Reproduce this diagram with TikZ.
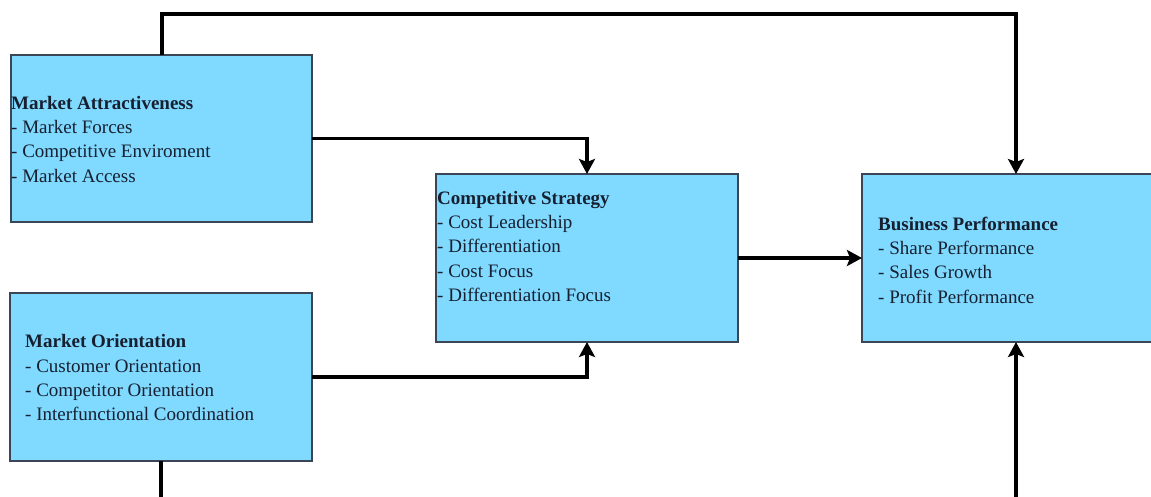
\documentclass[tikz,border=0pt]{standalone}
\usepackage{fontspec}
\setmainfont{Liberation Serif}
\usetikzlibrary{arrows.meta}
\definecolor{boxfill}{RGB}{128,217,255}
\definecolor{boxline}{RGB}{58,70,86}
\definecolor{txt}{RGB}{22,32,48}
\begin{document}
\begin{tikzpicture}[x=1pt,y=-1pt,
  box/.style={draw=boxline, line width=1.4pt, fill=boxfill, anchor=north west, inner sep=0pt, outer sep=0pt},
  lbl/.style={anchor=north west, inner sep=0pt, align=left, text=txt, font=\fontsize{19}{24.3}\selectfont},
  conn/.style={line width=3.8pt, black},
  arr/.style={conn, -{Stealth[length=15pt,width=16pt,inset=3pt]}}]
\useasboundingbox (0,0) rectangle (1151,497);
% boxes
\node[box, minimum width=301pt, minimum height=167pt] (ma) at (11,55) {};
\node[box, minimum width=302pt, minimum height=168pt] (cs) at (436,174) {};
\node[box, minimum width=310pt, minimum height=168pt] (bp) at (862,174) {};
\node[box, minimum width=302pt, minimum height=168pt] (mo) at (10,293) {};
% texts
\node[lbl] (mat) at (11,92) {\strut\textbf{Market Attractiveness}\\- Market Forces\\- Competitive Enviroment\\- Market Access};
\node[lbl] (cst) at (437,187) {\strut\textbf{Competitive Strategy}\\- Cost Leadership\\- Differentiation\\- Cost Focus\\- Differentiation Focus};
\node[lbl] (bpt) at (878,213) {\strut\textbf{Business Performance}\\- Share Performance\\- Sales Growth\\- Profit Performance};
\node[lbl] (mot) at (25,330.5) {\strut\textbf{Market Orientation}\\- Customer Orientation\\- Competitor Orientation\\- Interfunctional Coordination};
% helper coordinates
\coordinate (tl) at (162,14);
\coordinate (tr) at (1016,14);
\coordinate (bot) at (0,500);
% connectors
\draw[arr] (ma.north -| tl) -- (tl) -- (tr) -- (tr |- bp.north);
\draw[arr] (ma.east) -| (cs.north);
\draw[arr] (mo.east) -| (cs.south);
\draw[arr] (cs.east) -- (bp.west);
\draw[conn] (mo.south) -- (mo.south |- bot);
\draw[arr] (tr |- bot) -- (tr |- bp.south);
\end{tikzpicture}
\end{document}
